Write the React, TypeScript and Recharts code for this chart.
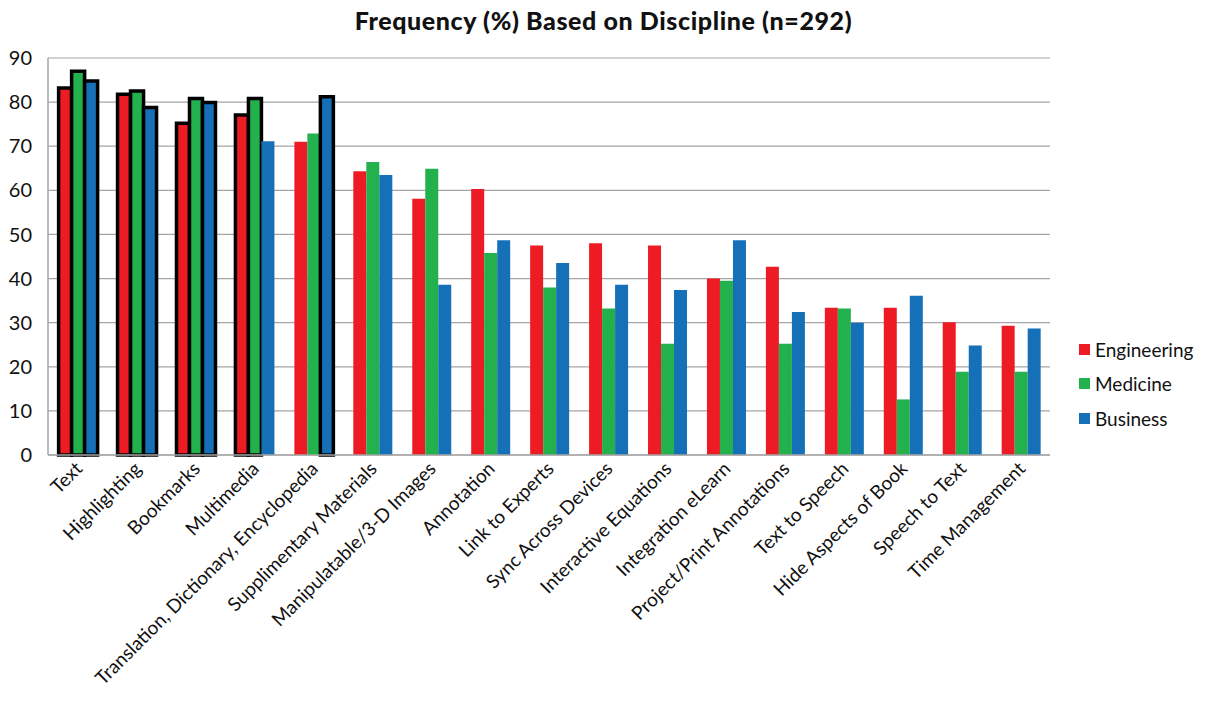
import React from 'react';
import { BarChart, Bar, XAxis, YAxis, CartesianGrid, Cell } from 'recharts';

const categories = [
  'Text',
  'Highlighting',
  'Bookmarks',
  'Multimedia',
  'Translation, Dictionary, Encyclopedia',
  'Supplimentary Materials',
  'Manipulatable/3-D Images',
  'Annotation',
  'Link to Experts',
  'Sync Across Devices',
  'Interactive Equations',
  'Integration eLearn',
  'Project/Print Annotations',
  'Text to Speech',
  'Hide Aspects of Book',
  'Speech to Text',
  'Time Management',
];

const engineering = [83.2, 81.8, 75.2, 77.1, 71.0, 64.3, 58.1, 60.3, 47.5, 48.0, 47.5, 40.0, 42.7, 33.4, 33.4, 30.1, 29.3];
const medicine = [87.0, 82.5, 80.8, 80.8, 72.9, 66.4, 64.9, 45.8, 38.0, 33.2, 25.2, 39.5, 25.2, 33.2, 12.6, 18.9, 18.9];
const business = [84.8, 78.8, 79.9, 71.1, 81.2, 63.5, 38.6, 48.7, 43.5, 38.6, 37.4, 48.7, 32.4, 30.0, 36.1, 24.8, 28.7];

// indices of bars drawn with the heavy black outline
const outlined = {
  engineering: [0, 1, 2, 3],
  medicine: [0, 1, 2, 3],
  business: [0, 1, 2, 4],
};

const yTicks = [0, 10, 20, 30, 40, 50, 60, 70, 80, 90];

const series = [
  { key: 'engineering', name: 'Engineering', color: '#ED1C24' },
  { key: 'medicine', name: 'Medicine', color: '#22B14C' },
  { key: 'business', name: 'Business', color: '#1570B8' },
];

const data = categories.map((name, i) => ({
  name,
  engineering: engineering[i],
  medicine: medicine[i],
  business: business[i],
}));

const FONT = 'Lato, "Open Sans", sans-serif';

const XTick = ({ x, y, payload }: any) => (
  <g transform={`translate(${x + 6},${y + 7})`}>
    <text
      x={0}
      y={0}
      textAnchor="end"
      transform="rotate(-45)"
      fontSize={19}
      fontFamily={FONT}
      fill="#111"
    >
      {payload.value}
    </text>
  </g>
);

export default function App() {
  return (
    <div style={{ position: 'absolute', left: 0, top: 0, width: 1207, height: 703, background: '#fff', fontFamily: FONT }}>
      <div
        style={{
          position: 'absolute',
          left: 0,
          top: 5,
          width: 1207,
          textAlign: 'center',
          fontSize: 25,
          fontWeight: 900,
          letterSpacing: 0.6,
          color: '#111',
        }}
      >
        Frequency (%) Based on Discipline (n=292)
      </div>
      <BarChart
        width={1207}
        height={703}
        data={data}
        margin={{ top: 58, right: 157, left: 8, bottom: 0 }}
        barCategoryGap="18%"
        barGap={0}
      >
        <CartesianGrid vertical={false} stroke="#a6a6a6" strokeWidth={1.2} />
        <XAxis
          dataKey="name"
          interval={0}
          height={248}
          tickLine={false}
          axisLine={{ stroke: '#a6a6a6', strokeWidth: 1.5 }}
          tick={<XTick />}
        />
        <YAxis
          width={40}
          domain={[0, 90]}
          ticks={yTicks}
          tickLine={false}
          tickMargin={10}
          axisLine={{ stroke: '#a6a6a6', strokeWidth: 1.5 }}
          tick={{ fontSize: 20, fill: '#111', fontFamily: FONT }}
        />
        {series.map((s) => (
          <Bar key={s.key} dataKey={s.key} name={s.name} fill={s.color} isAnimationActive={false}>
            {data.map((_, i) => {
              const hl = (outlined as any)[s.key].includes(i);
              return (
                <Cell
                  key={i}
                  fill={s.color}
                  stroke={hl ? '#000' : s.color}
                  strokeWidth={hl ? 3.5 : 0}
                />
              );
            })}
          </Bar>
        ))}
      </BarChart>
      <div style={{ position: 'absolute', left: 1079, top: 332 }}>
        {series.map((s) => (
          <div key={s.key} style={{ display: 'flex', alignItems: 'center', height: 34.5, fontSize: 19, color: '#111' }}>
            <span style={{ width: 11, height: 11, background: s.color, marginRight: 5, display: 'inline-block' }} />
            {s.name}
          </div>
        ))}
      </div>
    </div>
  );
}
